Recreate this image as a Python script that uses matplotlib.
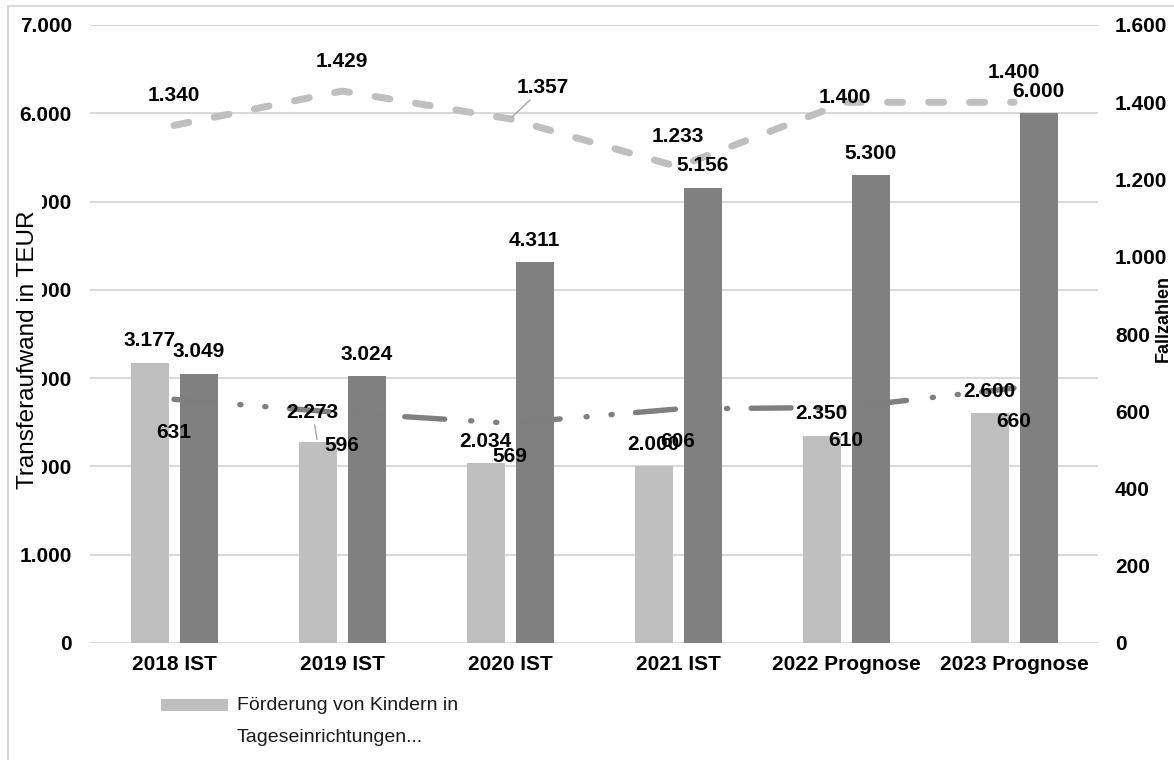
import matplotlib
matplotlib.use("Agg")
import matplotlib.pyplot as plt
from matplotlib.ticker import FixedLocator, FuncFormatter
from matplotlib.patches import Rectangle
import numpy as np

# ---- data -------------------------------------------------------------
categories = ["2018 IST", "2019 IST", "2020 IST", "2021 IST",
              "2022 Prognose", "2023 Prognose"]
foerderung_teur = [3177, 2273, 2034, 2000, 2350, 2600]
transfer_teur = [3049, 3024, 4311, 5156, 5300, 6000]
fallzahlen_gesamt = [1340, 1429, 1357, 1233, 1400, 1400]
fallzahlen_kita = [631, 596, 569, 606, 610, 660]
left_ticks = [0, 1000, 2000, 3000, 4000, 5000, 6000, 7000]
right_ticks = [0, 200, 400, 600, 800, 1000, 1200, 1400, 1600]
legend_label = "Förderung von Kindern in\nTageseinrichtungen..."
left_title = "Transferaufwand in TEUR"
right_title = "Fallzahlen"

# ---- styling ----------------------------------------------------------
W, H, DPI = 1174, 760, 100
plt.rcParams["font.family"] = ["Liberation Sans", "DejaVu Sans"]
plt.rcParams["lines.scale_dashes"] = False

LIGHT = "#bfbfbf"
DARK = "#7f7f7f"
GRID = "#d9d9d9"
FS = 15


def pt(px):
    """pixels -> points"""
    return px * 72.0 / DPI


def de(v, _=None):
    return f"{v:,.0f}".replace(",", ".")


fig = plt.figure(figsize=(W / DPI, H / DPI), dpi=DPI)
ax = fig.add_axes([90 / W, 1 - 643 / H, 1008 / W, 618 / H])

x = np.arange(len(categories))
bar_w = 38 / 168
shift = 24.5 / 168

ax.bar(x - shift, foerderung_teur, bar_w, color=LIGHT, zorder=2)
ax.bar(x + shift, transfer_teur, bar_w, color="#808080", zorder=2)

ax.set_xlim(-0.5, len(categories) - 0.5)
ax.set_ylim(left_ticks[0], left_ticks[-1])
ax.yaxis.set_major_locator(FixedLocator(left_ticks))
ax.yaxis.set_major_formatter(FuncFormatter(de))
ax.set_xticks(x)
ax.set_xticklabels(categories, fontsize=FS, fontweight="bold")
ax.grid(axis="y", color=GRID, lw=1.5, zorder=0)
ax.set_axisbelow(True)
for s in ax.spines.values():
    s.set_visible(False)
ax.tick_params(axis="y", length=0, pad=pt(18), labelsize=FS)
ax.tick_params(axis="x", length=0, pad=pt(12))
for lab in ax.get_yticklabels():
    lab.set_fontweight("bold")

ax2 = ax.twinx()
ax2.set_ylim(right_ticks[0], right_ticks[-1])
ax2.yaxis.set_major_locator(FixedLocator(right_ticks))
ax2.yaxis.set_major_formatter(FuncFormatter(de))
for s in ax2.spines.values():
    s.set_visible(False)
ax2.tick_params(axis="y", length=0, pad=pt(17), labelsize=FS)
for lab in ax2.get_yticklabels():
    lab.set_fontweight("bold")

# lines on the secondary axis
ax2.plot(x, fallzahlen_gesamt, color=LIGHT, lw=pt(7),
         dashes=(pt(15), pt(26)), dash_capstyle="round",
         solid_joinstyle="round", zorder=3)
ax2.plot(x, fallzahlen_kita, color=DARK, lw=pt(5.4),
         dashes=(pt(40), pt(26), 0.8, pt(24), 0.8, pt(23.5)),
         dash_capstyle="round", solid_joinstyle="round", zorder=3)

# ---- value labels -----------------------------------------------------
lead = dict(arrowstyle="-", color="#a6a6a6", lw=1.0, shrinkA=0, shrinkB=2)


def label(xv, yv, txt, dx, dy, trans, leader=False):
    ax2.annotate(txt, xy=(xv, yv), xycoords=trans,
                 xytext=(pt(dx), pt(dy)), textcoords="offset points",
                 ha="center", va="center", fontsize=FS, fontweight="bold",
                 arrowprops=lead if leader else None, zorder=6)


bar_shift = {1: (-5, 30)}
for i, v in enumerate(foerderung_teur):
    dx, dy = bar_shift.get(i, (0, 22))
    label(x[i] - shift, v, de(v), dx, dy, ax.transData, leader=i in bar_shift)
for i, v in enumerate(transfer_teur):
    label(x[i] + shift, v, de(v), 0, 22, ax.transData)

gesamt_shift = {2: (33, 31), 4: (-1, 5)}
for i, v in enumerate(fallzahlen_gesamt):
    dx, dy = gesamt_shift.get(i, (0, 30))
    label(x[i], v, de(v), dx, dy, ax2.transData, leader=(i == 2))
for i, v in enumerate(fallzahlen_kita):
    label(x[i], v, de(v), 0, -33, ax2.transData)

# ---- axis titles ------------------------------------------------------
fig.patches.append(Rectangle((12 / W, 1 - 496 / H), 30 / W, 314 / H,
                             transform=fig.transFigure, facecolor="white",
                             edgecolor="none", zorder=5))
fig.text(28 / W, 1 - 350 / H, left_title, rotation=90, ha="center",
         va="center", fontsize=17.5, zorder=6)
fig.text(1163 / W, 1 - 318 / H, right_title, rotation=90, ha="center",
         va="center", fontsize=13, fontweight="bold", zorder=6)

# ---- legend -----------------------------------------------------------
fig.patches.append(Rectangle((161 / W, 1 - 711 / H), 67 / W, 12 / H,
                             transform=fig.transFigure, facecolor=LIGHT,
                             edgecolor="none"))
fig.text(237 / W, 1 - 705 / H, legend_label.split("\n")[0], ha="left",
         va="center", fontsize=14, color="#1a1a1a")
fig.text(237 / W, 1 - 737 / H, legend_label.split("\n")[1], ha="left",
         va="center", fontsize=14, color="#1a1a1a")

# ---- chart-area frame -------------------------------------------------
fig.add_artist(plt.Line2D([8 / W, 8 / W], [0, 1 - 6 / H], color=GRID, lw=1.5,
                          transform=fig.transFigure))
fig.add_artist(plt.Line2D([8 / W, 1], [1 - 6 / H, 1 - 6 / H], color=GRID,
                          lw=1.5, transform=fig.transFigure))

fig.savefig("out.png", dpi=DPI, facecolor="white")
